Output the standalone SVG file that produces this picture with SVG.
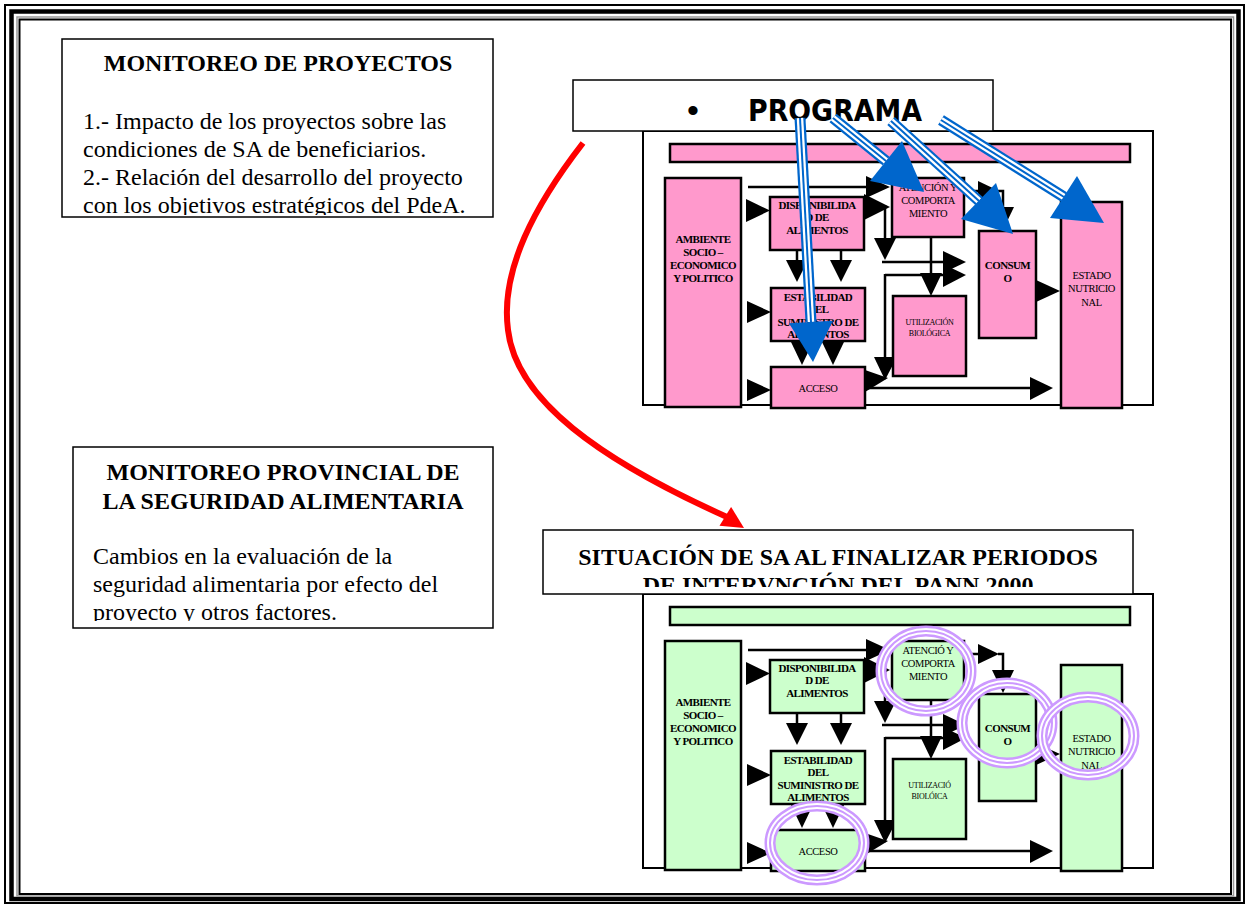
<svg xmlns="http://www.w3.org/2000/svg" xmlns:xlink="http://www.w3.org/1999/xlink" width="1246" height="904" viewBox="0 0 1246 904">
<style>
.pk{fill:#FF99CC;stroke:#000;stroke-width:2.5}
.gr{fill:#CCFFCC;stroke:#000;stroke-width:2.5}
.fr{fill:#fff;stroke:#000;stroke-width:2}
.bx{fill:#fff;stroke:#000;stroke-width:1.5}
.ln{fill:none;stroke:#000;stroke-width:2.5}
.ah{fill:#000}
.t24b{font-family:"Liberation Serif",serif;font-weight:bold;font-size:24px}
.t24{font-family:"Liberation Serif",serif;font-size:24px}
.nb{font-family:"Liberation Serif",serif;font-weight:bold;font-size:11px;letter-spacing:-0.6px;text-anchor:middle}
.nr{font-family:"Liberation Serif",serif;font-size:10.5px;letter-spacing:-0.4px;text-anchor:middle}
.ns{font-family:"Liberation Serif",serif;font-size:8px;letter-spacing:-0.3px;text-anchor:middle}
.bs1{fill:none;stroke:#0066CC;stroke-width:11}
.bs2{fill:none;stroke:#fff;stroke-width:6.5}
.bs3{fill:none;stroke:#0066CC;stroke-width:2}
.bh{fill:#0066CC}
.ring1{fill:none;stroke:#CC99FF;stroke-width:11}
.ring2{fill:none;stroke:#fff;stroke-width:6}
.ring3{fill:none;stroke:#CC99FF;stroke-width:2}
</style>
<defs>
<clipPath id="c1"><rect x="63" y="40" width="429" height="175"/></clipPath>
<clipPath id="c2"><rect x="74" y="448" width="418" height="173"/></clipPath>
<clipPath id="c3"><rect x="544" y="531" width="588" height="56"/></clipPath>
</defs>
<rect width="1246" height="904" fill="#fff"/>
<g id="page-frame">
<rect x="5" y="5" width="1239" height="898" fill="none" stroke="#000" stroke-width="2"/>
<rect x="11.5" y="11.5" width="1227" height="887.5" fill="none" stroke="#000" stroke-width="4.5"/>
<rect x="17" y="17" width="1216.5" height="879" fill="none" stroke="#999" stroke-width="1.5"/>
<rect x="19.5" y="19.5" width="1211.5" height="874.5" fill="none" stroke="#000" stroke-width="2"/>
</g>
<g id="box-monitoreo-proyectos">
<rect x="62" y="39" width="431" height="178" class="bx"/>
<text class="t24b" x="278" y="71" text-anchor="middle">MONITOREO DE PROYECTOS</text>
<g clip-path="url(#c1)">
<text class="t24" x="83" y="129">1.- Impacto de los proyectos sobre las</text>
<text class="t24" x="83" y="157">condiciones de SA de beneficiarios.</text>
<text class="t24" x="83" y="185">2.- Relación del desarrollo del proyecto</text>
<text class="t24" x="83" y="213">con los objetivos estratégicos del PdeA.</text>
</g>
</g>
<g id="box-monitoreo-provincial">
<rect x="73" y="447" width="420" height="181" class="bx"/>
<text class="t24b" x="283" y="480" text-anchor="middle">MONITOREO PROVINCIAL DE</text>
<text class="t24b" x="283" y="509" text-anchor="middle">LA SEGURIDAD ALIMENTARIA</text>
<g clip-path="url(#c2)">
<text class="t24" x="93" y="564">Cambios en la evaluación de la</text>
<text class="t24" x="93" y="592">seguridad alimentaria por efecto del</text>
<text class="t24" x="93" y="620">proyecto y otros factores.</text>
</g>
</g>
<g id="red-connector">
<path d="M583,143 C535,205 500,270 508,330 C516,400 600,460 727,517" fill="none" stroke="#FF0000" stroke-width="6"/>
<polygon points="744,528 719.5,525.7 731.1,506.9" fill="#FF0000"/>
</g>
<!-- TOP DIAGRAM -->
<g id="top-frame"><rect x="643" y="131" width="510" height="274" class="fr"/></g>
<g id="programa">
<rect x="573" y="80" width="420" height="51" class="bx"/>
<text x="693" y="122" font-family="Liberation Sans,sans-serif" font-size="34" text-anchor="middle">•</text>
<text x="748" y="121" font-family="DejaVu Sans,sans-serif" font-weight="bold" font-size="30" textLength="174" lengthAdjust="spacingAndGlyphs">PROGRAMA</text>
</g>
<g id="t-bar"><rect x="670" y="144" width="460" height="18" class="pk"/></g>
<g id="conn-top">
<line x1="748" y1="187" x2="868" y2="187" class="ln"/>
<polygon points="866,176 866,198 890,187" class="ah"/>
<polygon points="746,199 746,222 770,210.5" class="ah"/>
<polygon points="747,301 747,323 771,312" class="ah"/>
<polygon points="747,379 747,401 771,390" class="ah"/>
<polygon points="864,194 864,220 890,207" class="ah"/>
<line x1="885" y1="205" x2="885" y2="240" class="ln"/>
<polygon points="874,238 896,238 885,260" class="ah"/>
<line x1="882" y1="262" x2="945" y2="262" class="ln"/>
<polygon points="943,251 943,273 966,262" class="ah"/>
<line x1="885" y1="275" x2="945" y2="275" class="ln"/>
<polygon points="943,264 943,287 966,275" class="ah"/>
<line x1="885" y1="274" x2="885" y2="360" class="ln"/>
<polygon points="874,357 897,357 885,380" class="ah"/>
<polygon points="865,370 865,392 888,378" class="ah"/>
<line x1="865" y1="388" x2="1032" y2="388" class="ln"/>
<polygon points="1030,377 1030,400 1053,388" class="ah"/>
<line x1="931" y1="237" x2="931" y2="275" class="ln"/>
<polygon points="920,273 942,273 931,296" class="ah"/>
<polygon points="1036,280 1036,302 1060,291" class="ah"/>
<line x1="964" y1="191" x2="980" y2="191" class="ln"/>
<polygon points="978,181 978,201 999,191" class="ah"/>
<polyline points="998,191 1003,191 1003,209" class="ln"/>
<polygon points="992,207 1014,207 1003,230" class="ah"/>
<line x1="797" y1="250" x2="797" y2="262" class="ln"/>
<polygon points="786,260 808,260 797,282" class="ah"/>
<line x1="841" y1="250" x2="841" y2="262" class="ln"/>
<polygon points="830,260 852,260 841,282" class="ah"/>
<polygon points="791,342 813,342 802,365" class="ah"/>
<polygon points="822,342 844,342 833,365" class="ah"/>
</g>
<g id="t-ambiente"><rect x="665" y="178" width="76" height="229" class="pk"/>
<text class="nb"><tspan x="703" y="243">AMBIENTE</tspan><tspan x="703" y="256">SOCIO –</tspan><tspan x="703" y="269">ECONOMICO</tspan><tspan x="703" y="282">Y POLITICO</tspan></text></g>
<g id="t-disponibilidad"><rect x="770" y="197" width="94" height="53" class="pk"/>
<text class="nb"><tspan x="817" y="209">DISPONIBILIDA</tspan><tspan x="817" y="221">D DE</tspan><tspan x="817" y="234">ALIMENTOS</tspan></text></g>
<g id="t-estabilidad"><rect x="771" y="288" width="94" height="53" class="pk"/>
<text class="nb"><tspan x="818" y="301">ESTABILIDAD</tspan><tspan x="818" y="313">DEL</tspan><tspan x="818" y="326">SUMINISTRO DE</tspan><tspan x="818" y="338">ALIMENTOS</tspan></text></g>
<g id="t-acceso"><rect x="771" y="367" width="94" height="41" class="pk"/>
<text class="nr" x="818" y="392">ACCESO</text></g>
<g id="t-atencion"><rect x="892" y="178" width="72" height="59" class="pk"/>
<text class="nr"><tspan x="928" y="191">ATENCIÓN Y</tspan><tspan x="928" y="204">COMPORTA</tspan><tspan x="928" y="217">MIENTO</tspan></text></g>
<g id="t-utilizacion"><rect x="893" y="296" width="73" height="80" class="pk"/>
<text class="ns"><tspan x="929.5" y="325">UTILIZACIÓN</tspan><tspan x="929.5" y="336">BIOLÓGICA</tspan></text></g>
<g id="t-consumo"><rect x="979" y="231" width="57" height="107" class="pk"/>
<text class="nb"><tspan x="1007.5" y="269">CONSUM</tspan><tspan x="1007.5" y="282">O</tspan></text></g>
<g id="t-estado"><rect x="1061" y="202" width="61" height="206" class="pk"/>
<text class="nr"><tspan x="1091.5" y="279">ESTADO</tspan><tspan x="1091.5" y="292">NUTRICIO</tspan><tspan x="1091.5" y="306">NAL</tspan></text></g>
<g id="blue-connectors">
<polyline points="800,118 811,322" class="bs1"/><polyline points="800,118 811,322" class="bs2"/><polyline points="800,118 811,322" class="bs3"/>
<polygon points="813,362 789,323.2 832.9,320.8" class="bh"/>
<polyline points="833,118 886,161" class="bs1"/><polyline points="833,118 886,161" class="bs2"/><polyline points="833,118 886,161" class="bs3"/>
<polygon points="924,192 870,181 902,141" class="bh"/>
<polyline points="891,121 979,201" class="bs1"/><polyline points="891,121 979,201" class="bs2"/><polyline points="891,121 979,201" class="bs3"/>
<polygon points="1013,234 961,219 996,183" class="bh"/>
<polyline points="941,120 1064,197" class="bs1"/><polyline points="941,120 1064,197" class="bs2"/><polyline points="941,120 1064,197" class="bs3"/>
<polygon points="1104,223 1050,218 1077,176" class="bh"/>
</g>
<!-- BOTTOM DIAGRAM -->
<g id="bottom-frame"><rect x="643" y="594" width="510" height="274" class="fr"/></g>
<g id="situacion">
<rect x="543" y="530" width="590" height="64" class="bx"/>
<g clip-path="url(#c3)">
<text class="t24b" x="838" y="565" text-anchor="middle">SITUACIÓN DE SA AL FINALIZAR PERIODOS</text>
<text class="t24b" x="838" y="593" text-anchor="middle">DE INTERVNCIÓN DEL PANN 2000</text>
</g>
</g>
<g id="b-bar"><rect x="670" y="607" width="460" height="18" class="gr"/></g>
<g id="conn-bottom"><use xlink:href="#conn-top" href="#conn-top" transform="translate(0,463)"/></g>
<g id="b-ambiente"><rect x="665" y="641" width="76" height="229" class="gr"/>
<text class="nb"><tspan x="703" y="706">AMBIENTE</tspan><tspan x="703" y="719">SOCIO –</tspan><tspan x="703" y="732">ECONOMICO</tspan><tspan x="703" y="745">Y POLITICO</tspan></text></g>
<g id="b-disponibilidad"><rect x="770" y="660" width="94" height="53" class="gr"/>
<text class="nb"><tspan x="817" y="672">DISPONIBILIDA</tspan><tspan x="817" y="684">D DE</tspan><tspan x="817" y="697">ALIMENTOS</tspan></text></g>
<g id="b-estabilidad"><rect x="771" y="751" width="94" height="53" class="gr"/>
<text class="nb"><tspan x="818" y="764">ESTABILIDAD</tspan><tspan x="818" y="776">DEL</tspan><tspan x="818" y="789">SUMINISTRO DE</tspan><tspan x="818" y="801">ALIMENTOS</tspan></text></g>
<g id="b-acceso"><rect x="771" y="830" width="94" height="41" class="gr"/>
<text class="nr" x="818" y="855">ACCESO</text></g>
<g id="b-atencion"><rect x="892" y="641" width="72" height="59" class="gr"/>
<text class="nr"><tspan x="928" y="654">ATENCIÓ Y</tspan><tspan x="928" y="667">COMPORTA</tspan><tspan x="928" y="680">MIENTO</tspan></text></g>
<g id="b-utilizacion"><rect x="893" y="759" width="73" height="80" class="gr"/>
<text class="ns"><tspan x="929.5" y="788">UTILIZACIÓ</tspan><tspan x="929.5" y="799">BIOLÓICA</tspan></text></g>
<g id="b-consumo"><rect x="979" y="694" width="57" height="107" class="gr"/>
<text class="nb"><tspan x="1007.5" y="732">CONSUM</tspan><tspan x="1007.5" y="745">O</tspan></text></g>
<g id="b-estado"><rect x="1061" y="665" width="61" height="206" class="gr"/>
<text class="nr"><tspan x="1091.5" y="742">ESTADO</tspan><tspan x="1091.5" y="755">NUTRICIO</tspan><tspan x="1091.5" y="769">NAL</tspan></text></g>
<g id="purple-rings">
<ellipse cx="926" cy="671" rx="45" ry="40" class="ring1"/><ellipse cx="926" cy="671" rx="45" ry="40" class="ring2"/><ellipse cx="926" cy="671" rx="45" ry="40" class="ring3"/>
<ellipse cx="1007" cy="723" rx="45" ry="40" class="ring1"/><ellipse cx="1007" cy="723" rx="45" ry="40" class="ring2"/><ellipse cx="1007" cy="723" rx="45" ry="40" class="ring3"/>
<ellipse cx="1088" cy="736" rx="46" ry="39" class="ring1"/><ellipse cx="1088" cy="736" rx="46" ry="39" class="ring2"/><ellipse cx="1088" cy="736" rx="46" ry="39" class="ring3"/>
<ellipse cx="817" cy="843" rx="47" ry="37" class="ring1"/><ellipse cx="817" cy="843" rx="47" ry="37" class="ring2"/><ellipse cx="817" cy="843" rx="47" ry="37" class="ring3"/>
</g>
</svg>
